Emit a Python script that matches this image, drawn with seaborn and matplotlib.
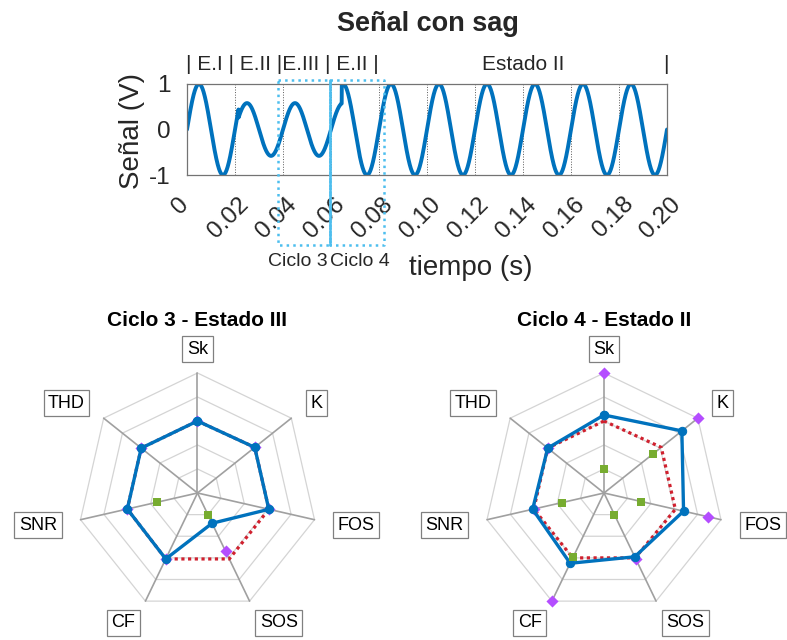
import numpy as np
import pandas as pd
import seaborn as sns
import matplotlib.pyplot as plt
from matplotlib.transforms import ScaledTranslation

# --- signal with sag ---
freq_hz = 50
seg_start = [0.0, 0.0215, 0.0645]      # start time of each segment (s)
seg_amp = [1.0, 0.58, 1.0]             # amplitude in each segment (V)
x_ticks = [0, 0.02, 0.04, 0.06, 0.08, 0.10, 0.12, 0.14, 0.16, 0.18, 0.20]
x_tick_labels = ['0', '0.02', '0.04', '0.06', '0.08', '0.10', '0.12', '0.14', '0.16', '0.18', '0.20']
y_ticks = [-1, 0, 1]
cycle_edges = [0.0378, 0.0597, 0.0822]  # Ciclo 3 / Ciclo 4 windows
cycle_names = ['Ciclo 3', 'Ciclo 4']

# --- radar data ---
features = ['Sk', 'K', 'FOS', 'SOS', 'CF', 'SNR', 'THD']
c3_blue = [0.60, 0.61, 0.61, 0.28, 0.61, 0.60, 0.60]
c3_red = [0.60, 0.61, 0.61, 0.61, 0.61, 0.60, 0.60]
c3_purple = [0.60, 0.61, 0.61, 0.54, 0.61, 0.60, 0.60]
c3_green = [np.nan, np.nan, np.nan, 0.20, np.nan, 0.35, np.nan]
c4_blue = [0.65, 0.83, 0.68, 0.59, 0.65, 0.61, 0.60]
c4_red = [0.60, 0.61, 0.61, 0.60, 0.60, 0.60, 0.60]
c4_purple = [1.0, 1.0, 0.89, 0.615, 1.0, 0.60, 0.60]
c4_green = [0.20, 0.52, 0.32, 0.20, 0.59, 0.36, np.nan]

sns.set_style('white')
plt.rcParams['font.family'] = ['Liberation Sans', 'DejaVu Sans']

W, H = 787, 640
fig = plt.figure(figsize=(W / 100, H / 100), dpi=100)

BLUE = '#0072BD'
LIGHT = '#4DBEEE'

# ---------------- top: signal ----------------
ax = fig.add_axes([187 / W, 1 - 175 / H, 480 / W, 91 / H])
t = np.linspace(0, 0.2, 4001)
amp = np.array(seg_amp)[np.searchsorted(seg_start, t, side='right') - 1]
df = pd.DataFrame({'t': t, 'v': amp * np.sin(2 * np.pi * freq_hz * t)})
sns.lineplot(data=df, x='t', y='v', ax=ax, color=BLUE, lw=2.8, estimator=None)
ax.set_xlim(0, 0.2)
ax.set_ylim(-1, 1)
ax.set_xticks(x_ticks)
ax.set_xticklabels(x_tick_labels, rotation=45, ha='center', va='top', fontsize=17.5)
ax.set_yticks(y_ticks)
ax.set_yticklabels([str(v) for v in y_ticks], fontsize=17.5)
ax.tick_params(axis='x', direction='in', length=4, pad=13, color='0.3')
ax.tick_params(axis='y', direction='in', length=0, pad=12, color='0.3')
for lab in ax.get_xticklabels():
    lab.set_transform(lab.get_transform() + ScaledTranslation(-0.06, 0, fig.dpi_scale_trans))
ax.grid(axis='x', ls=':', color='0.35', lw=0.7)
for s in ax.spines.values():
    s.set_color('0.45')
    s.set_linewidth(0.9)
ax.set_xlabel('')
ax.set_ylabel('')

fig.text(428 / W, 1 - 24 / H, 'Señal con sag', ha='center', va='center',
         fontsize=19.5, fontweight='bold')
fig.text(132 / W, 1 - 131 / H, 'Señal (V)', ha='center', va='center',
         rotation=90, fontsize=20, color='0.15')
fig.text(471 / W, 1 - 268 / H, 'tiempo (s)', ha='center', va='center',
         fontsize=20, color='0.15')

# state labels above the axes
ax.text(-0.0005, 1.42, '| E.I | E.II |E.III | E.II |', ha='left', va='center',
        fontsize=15, clip_on=False)
ax.text(0.140, 1.42, 'Estado II', ha='center', va='center', fontsize=15, clip_on=False)
ax.text(0.1995, 1.42, '|', ha='center', va='center', fontsize=15, clip_on=False)

# cycle windows
y_top, y_bot = 1.09, -2.54
x0, xm, x1 = cycle_edges
for a, b in [(x0, xm), (xm, x1)]:
    ax.plot([a, b, b, a, a], [y_top, y_top, y_bot, y_bot, y_top], ls=':', lw=1.8,
            color=LIGHT, clip_on=False, zorder=5)
ax.plot([xm, xm], [y_top, y_bot], ls='-', lw=1.8, color=LIGHT, clip_on=False, zorder=6)
ax.text(xm - 0.0012, -2.9, cycle_names[0], ha='right', va='center', fontsize=14, clip_on=False)
ax.text(xm - 0.0002, -2.9, cycle_names[1], ha='left', va='center', fontsize=14, clip_on=False)


# ---------------- radars ----------------
def radar(cx, x_left, x_right, title, blue, red, purple, green):
    top, bottom = 300, 640
    sc = 120.0
    rax = fig.add_axes([x_left / W, 0, (x_right - x_left) / W, (bottom - top) / H])
    n = len(features)
    ang = np.pi / 2 - np.arange(n) * 2 * np.pi / n
    ux, uy = np.cos(ang), np.sin(ang)
    cux, cuy = np.append(ux, ux[0]), np.append(uy, uy[0])
    for r in [0.2, 0.4, 0.6, 0.8, 1.0]:
        rax.plot(r * cux, r * cuy, color='#d4d4d4', lw=0.9, zorder=1)
    for i in range(n):
        rax.plot([0, ux[i]], [0, uy[i]], color='#a0a0a0', lw=1.2, zorder=1)

    def closed(vals):
        v = np.append(vals, vals[0])
        return pd.DataFrame({'x': v * cux, 'y': v * cuy})

    d = closed(red)
    rax.plot(d.x, d.y, color='#D0202E', lw=2.3, ls=(0, (1, 1.1)), zorder=2)
    d = pd.DataFrame({'x': np.array(purple) * ux, 'y': np.array(purple) * uy})
    sns.scatterplot(data=d, x='x', y='y', ax=rax, marker='D', s=38, color='#B44DFF',
                    edgecolor='#B44DFF', linewidth=0, zorder=3)
    d = closed(blue)
    sns.lineplot(data=d, x='x', y='y', ax=rax, sort=False, estimator=None, color=BLUE,
                 lw=2.4, marker='o', ms=6, mec=BLUE, zorder=4)
    d = pd.DataFrame({'x': np.array(green) * ux, 'y': np.array(green) * uy})
    sns.scatterplot(data=d, x='x', y='y', ax=rax, marker='s', s=34, color='#77AC30',
                    edgecolor='#77AC30', linewidth=0, zorder=5)
    rax.set_xlim((x_left - cx) / sc, (x_right - cx) / sc)
    rax.set_ylim(-(bottom - 493) / sc, (493 - top) / sc)
    rax.axis('off')

    for i, name in enumerate(features):
        px, py = 1.2 * ux[i], 1.2 * uy[i]
        ha = 'left' if px > 0.1 else ('right' if px < -0.1 else 'center')
        rax.text(px, py, name, ha=ha, va='center', fontsize=13, color='black',
                 bbox=dict(boxstyle='square,pad=0.25', fc='white', ec='#808080', lw=0.9))
    rax.text(0, (493 - 320.5) / sc, title, ha='center', va='center', fontsize=15,
             fontweight='bold', color='black')


radar(197.5, 0, 395, 'Ciclo 3 - Estado III', c3_blue, c3_red, c3_purple, c3_green)
radar(604, 406, 787, 'Ciclo 4 - Estado II', c4_blue, c4_red, c4_purple, c4_green)

fig.savefig('out.png', dpi=100)
